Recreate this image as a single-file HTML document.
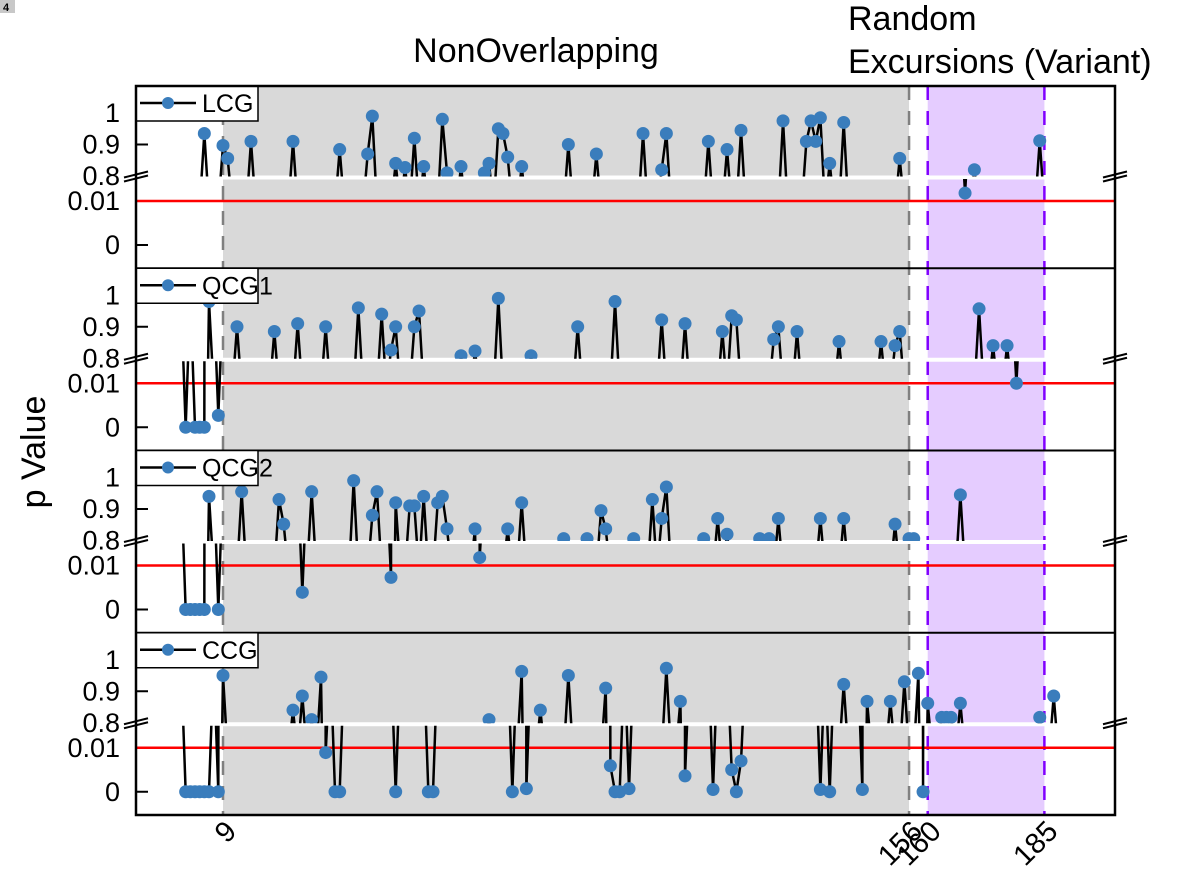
<!DOCTYPE html>
<html><head><meta charset="utf-8"><style>
html,body{margin:0;padding:0;background:#fff;overflow:hidden;}
svg{display:block;font-family:"Liberation Sans",Arial,sans-serif;}
</style></head><body>
<svg id="chart" width="1198" height="884" viewBox="0 0 1198 884">
<rect x="0" y="0" width="1198" height="884" fill="#fff"/>
<g><rect x="0" y="0" width="15" height="13" fill="#c8c8c8"/><text x="3" y="11" font-size="11" font-weight="bold" fill="#000">4</text></g>
<text x="536" y="62" font-size="34" text-anchor="middle">NonOverlapping</text>
<text x="848" y="30" font-size="34">Random</text>
<text x="848" y="73" font-size="34">Excursions (Variant)</text>
<text transform="translate(45,452) rotate(-90)" font-size="34" text-anchor="middle">p Value</text>
<g id="plot"></g>
</svg>
<script>
// ---- data: visible points per panel (index, p value) ----
const panelNames = ["LCG","QCG1","QCG2","CCG"];
const lcgIdx = [5,9,10,15,24,34,40,41,46,48,50,52,56,57,60,65,66,68,69,70,73,83,89,99,103,104,113,117,120,129,134,135,136,137,139,142,154,168,170,184];
const lcgVal = [0.935,0.897,0.856,0.91,0.91,0.884,0.87,0.99,0.84,0.827,0.92,0.83,0.98,0.81,0.83,0.81,0.84,0.95,0.935,0.86,0.83,0.9,0.87,0.935,0.82,0.935,0.91,0.884,0.945,0.975,0.91,0.975,0.91,0.985,0.84,0.97,0.856,0.0118,0.82,0.912];
const qcg1Idx = [1,3,4,5,6,8,12,20,25,31,38,43,45,46,50,51,60,63,68,75,85,93,103,108,116,118,119,127,128,132,141,150,153,154,171,174,177,179];
const qcg1Val = [0,0,0,0,0.98,0.0027,0.9,0.885,0.91,0.9,0.96,0.94,0.826,0.9,0.9,0.95,0.808,0.823,0.99,0.808,0.9,0.98,0.922,0.91,0.885,0.935,0.922,0.86,0.9,0.885,0.853,0.853,0.84,0.885,0.957,0.84,0.84,0.01];
const qcg2Idx = [1,2,3,4,5,6,8,13,21,22,26,28,37,41,42,45,46,49,50,52,55,56,57,63,64,70,73,82,87,90,91,97,101,103,104,112,115,117,124,126,128,137,142,153,156,157,167];
const qcg2Val = [0,0,0,0,0,0.94,0,0.955,0.93,0.852,0.0039,0.955,0.99,0.88,0.955,0.0073,0.92,0.91,0.91,0.94,0.92,0.94,0.837,0.837,0.0118,0.837,0.92,0.806,0.806,0.895,0.837,0.806,0.93,0.87,0.97,0.806,0.87,0.82,0.806,0.806,0.87,0.87,0.87,0.852,0.806,0.806,0.945];
const ccgIdx = [1,2,3,4,5,6,8,9,24,26,28,30,31,33,34,46,53,54,66,71,73,74,77,83,91,92,93,94,96,104,107,108,114,118,119,120,137,139,142,146,147,152,155,158,159,160,163,164,165,167,184,187];
const ccgVal = [0,0,0,0,0,0,0,0.95,0.84,0.885,0.81,0.945,0.0089,0,0,0,0,0,0.81,0,0.963,0.0007,0.84,0.95,0.91,0.0059,0,0,0.0007,0.973,0.868,0.0036,0.0005,0.005,0,0.007,0.0005,0,0.922,0.0005,0.868,0.868,0.93,0.957,0,0.862,0.817,0.817,0.817,0.862,0.817,0.885];
// indices without a visible marker lie between the two axis segments
const hiddenValueUpper = 0.7;
const hiddenValueLower = 0.03;
const xTickVals = [9,156,160,185];
const yUpperTicks = [1,0.9,0.8];
const yUpperLabels = ["1","0.9","0.8"];
const yLowerTicks = [0.01,0];
const yLowerLabels = ["0.01","0"];
const redLineValue = 0.01;
const grayRange = [9,156];
const purpleRange = [160,185];

const NS="http://www.w3.org/2000/svg";
const plot=document.getElementById('plot');
function mk(tag,attrs,parent){const e=document.createElementNS(NS,tag);for(const k in attrs)e.setAttribute(k,attrs[k]);(parent||plot).appendChild(e);return e;}
const L=136,R=1115,T=86,B=815,PH=182.25;
function xS(i){return 223+(i-9)*4.667;}
function panelTop(p){return T+p*PH;}
function yUp(p,v){return panelTop(p)+27+(1-v)*315;}
function yLo(p,v){return panelTop(p)+159-v*4400;}
const upH=90.5;

const defs=mk('defs',{});
for(let p=0;p<4;p++){
  const c1=mk('clipPath',{id:'cu'+p},defs);mk('rect',{x:L,y:panelTop(p),width:R-L,height:upH},c1);
  const c2=mk('clipPath',{id:'cl'+p},defs);mk('rect',{x:L,y:panelTop(p)+upH+2.5,width:R-L,height:PH-upH-2.5},c2);
}
let g=mk('rect',{x:xS(grayRange[0]),y:T,width:xS(grayRange[1])-xS(grayRange[0]),height:B-T,fill:'#d9d9d9'});


g=mk('rect',{x:xS(purpleRange[0]),y:T,width:xS(purpleRange[1])-xS(purpleRange[0]),height:B-T,fill:'#e5ccff'});


[[grayRange[0],'#808080'],[grayRange[1],'#808080'],[purpleRange[0],'#8000ff'],[purpleRange[1],'#8000ff']].forEach(([v,c])=>{
  const l=mk('line',{x1:xS(v),x2:xS(v),y1:T,y2:B,stroke:c,'stroke-width':2.5,'stroke-dasharray':'14,11'});
  
  
});

const sets=[[lcgIdx,lcgVal],[qcg1Idx,qcg1Val],[qcg2Idx,qcg2Val],[ccgIdx,ccgVal]];
for(let p=0;p<4;p++){
  const pt=panelTop(p);
  const pg=mk('g',{});
  
  
  const wb=mk('rect',{x:L,y:pt+upH-1,width:R-L,height:4,fill:'#fff'},pg);
  
  
  const rl=mk('line',{x1:L,x2:R,y1:yLo(p,redLineValue),y2:yLo(p,redLineValue),stroke:'#ff0000','stroke-width':2.5},pg);
  
  
  const [idx,val]=sets[p];
  const map={};idx.forEach((k,j)=>map[k]=val[j]);
  const lo=Math.min(...idx)-1,hi=Math.max(...idx)+1;
  let du='',dl='';
  for(let i=lo;i<=hi;i++){
    const vu=(i in map)?map[i]:hiddenValueUpper;
    const vl=(i in map)?map[i]:hiddenValueLower;
    du+=(i===lo?'M':'L')+xS(i).toFixed(2)+','+yUp(p,vu).toFixed(2);
    dl+=(i===lo?'M':'L')+xS(i).toFixed(2)+','+yLo(p,vl).toFixed(2);
  }
  const lu=mk('path',{d:du,fill:'none',stroke:'#000','stroke-width':2.5,'clip-path':'url(#cu'+p+')'},pg);
  
  
  const ll=mk('path',{d:dl,fill:'none',stroke:'#000','stroke-width':2.5,'clip-path':'url(#cl'+p+')'},pg);
  
  
  idx.forEach((k,j)=>{
    const v=val[j];
    const up=v>=0.75;
    const cy=up?yUp(p,v):yLo(p,v);
    const c=mk('circle',{cx:xS(k),cy:cy,r:6.5,fill:'#3a7dbc','clip-path':'url(#'+(up?'cu':'cl')+p+')'},pg);
    
    
  });
  yUpperTicks.forEach((v,j)=>{
    const y=yUp(p,v);
    if(v>0.8){const t=mk('line',{x1:L,x2:L+12,y1:y,y2:y,stroke:'#000','stroke-width':2},pg);
    
    }
    const tx=mk('text',{x:120,y:y+9,'font-size':27,'text-anchor':'end'},pg);tx.textContent=yUpperLabels[j];
    
    
  });
  yLowerTicks.forEach((v,j)=>{
    const y=yLo(p,v);
    if(v===0){const t=mk('line',{x1:L,x2:L+12,y1:y,y2:y,stroke:'#000','stroke-width':2},pg);
    
    }
    const tx=mk('text',{x:120,y:y+9,'font-size':27,'text-anchor':'end'},pg);tx.textContent=yLowerLabels[j];
    
    
  });
  [L,R].forEach(xx=>{
    [-2,2].forEach(o=>{
      const bm=mk('line',{x1:xx-12,y1:pt+upH+3+o,x2:xx+12,y2:pt+upH-3+o,stroke:'#000','stroke-width':2},pg);
      
      
    });
  });
  if(p>0){const s=mk('line',{x1:L,x2:R,y1:pt,y2:pt,stroke:'#000','stroke-width':2},pg);
  
  }
  const lg=mk('g',{},pg);
  
  
  mk('rect',{x:L,y:pt,width:122,height:35,fill:'#fff',stroke:'#000','stroke-width':1.5},lg);
  mk('line',{x1:L+4,x2:L+60,y1:pt+17,y2:pt+17,stroke:'#000','stroke-width':2.5},lg);
  mk('circle',{cx:L+32,cy:pt+17,r:6,fill:'#3a7dbc'},lg);
  const lt=mk('text',{x:L+66,y:pt+26,'font-size':25},lg);lt.textContent=panelNames[p];
}
const fr=mk('rect',{x:L,y:T,width:R-L,height:B-T,fill:'none',stroke:'#000','stroke-width':2.5});


xTickVals.forEach(v=>{
  const x=xS(v);
  const t=mk('text',{transform:'translate('+(x+15)+',833) rotate(-45)','font-size':29,'text-anchor':'end'});
  t.textContent=String(v);
  
  
});
</script>
</body></html>
